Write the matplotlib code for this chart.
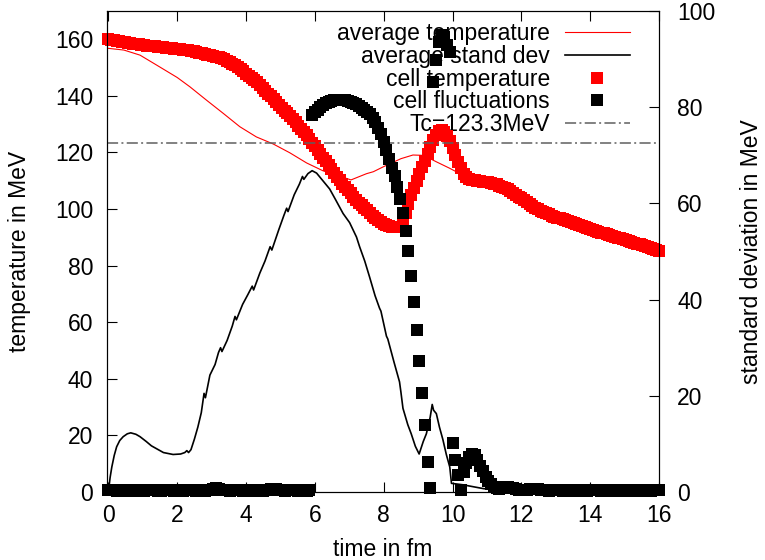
import numpy as np
import matplotlib
matplotlib.use("Agg")
import matplotlib.pyplot as plt
from matplotlib.lines import Line2D

plt.rcParams['font.family'] = ['Liberation Sans', 'DejaVu Sans']
plt.rcParams['lines.scale_dashes'] = False

# ---------------- data ----------------
time_step = 0.08
time = np.round(np.arange(201) * time_step, 2)   # sampling times of the cell data (fm)

cell_temperature = [  # MeV, left axis
    160.0, 159.8, 159.7, 159.5, 159.3, 159.2, 159.0, 158.8, 158.7, 158.5,
    158.3, 158.2, 158.0, 157.9, 157.8, 157.7, 157.6, 157.5, 157.4, 157.3,
    157.2, 157.0, 156.9, 156.8, 156.7, 156.6, 156.5, 156.3, 156.2, 156.1,
    155.9, 155.7, 155.5, 155.2, 155.0, 154.8, 154.6, 154.3, 154.1, 153.9,
    153.6, 153.4, 153.1, 152.5, 151.9, 151.3, 150.8, 150.2, 149.5, 148.7,
    147.9, 147.2, 146.4, 145.6, 144.8, 143.8, 142.8, 141.8, 140.8, 139.8,
    138.8, 137.8, 136.8, 135.8, 134.8, 133.9, 132.9, 131.7, 130.6, 129.5,
    128.4, 127.3, 126.2, 124.9, 123.5, 122.2, 120.9, 119.5, 118.2, 116.9,
    115.5, 114.2, 112.9, 111.5, 110.2, 109.0, 107.8, 106.7, 105.5, 104.3,
    103.1, 102.2, 101.3, 100.4, 99.5, 98.6, 97.7, 96.9, 96.2, 95.4,
    94.6, 94.3, 94.0, 93.7, 93.6, 93.5, 93.5, 95.5, 98.6, 101.8,
    104.8, 107.3, 109.8, 112.3, 114.8, 117.1, 119.4, 122.0, 124.5, 126.3,
    127.5, 127.9, 127.2, 125.8, 124.0, 121.6, 119.0, 116.6, 114.4, 112.4,
    111.2, 110.6, 110.3, 110.2, 110.0, 109.9, 109.7, 109.6, 109.4, 109.2,
    109.0, 108.7, 108.3, 107.9, 107.5, 107.0, 106.5, 105.8, 105.1, 104.4,
    103.8, 103.1, 102.4, 101.7, 101.1, 100.5, 99.9, 99.4, 98.9, 98.5,
    98.1, 97.7, 97.3, 97.0, 96.7, 96.4, 96.1, 95.8, 95.5, 95.2,
    94.8, 94.4, 94.0, 93.6, 93.2, 92.9, 92.6, 92.3, 92.0, 91.7,
    91.4, 91.1, 90.8, 90.5, 90.2, 89.9, 89.6, 89.3, 89.0, 88.7,
    88.4, 88.1, 87.8, 87.5, 87.2, 86.9, 86.6, 86.3, 86.0, 85.6,
    85.2,
]

cell_fluctuations = [  # MeV, right axis
    0.4, 0.5, 0.4, 0.3, 0.4, 0.3, 0.3, 0.4, 0.5, 0.4,
    0.3, 0.3, 0.4, 0.3, 0.4, 0.5, 0.4, 0.4, 0.3, 0.3,
    0.4, 0.4, 0.5, 0.4, 0.3, 0.4, 0.3, 0.3, 0.4, 0.5,
    0.4, 0.4, 0.3, 0.4, 0.4, 0.3, 0.4, 0.5, 0.7, 0.8,
    0.7, 0.5, 0.4, 0.4, 0.3, 0.4, 0.4, 0.5, 0.4, 0.3,
    0.4, 0.4, 0.3, 0.4, 0.5, 0.4, 0.3, 0.4, 0.5, 0.6,
    0.7, 0.6, 0.4, 0.4, 0.3, 0.4, 0.4, 0.5, 0.4, 0.3,
    0.4, 0.4, 0.3, 0.4, 78.4, 79.0, 79.5, 80.0, 80.4, 80.8,
    81.1, 81.3, 81.5, 81.6, 81.6, 81.6, 81.5, 81.3, 81.1, 80.9,
    80.6, 80.3, 79.9, 79.5, 79.0, 78.6, 77.8, 76.9, 75.6, 74.4,
    72.8, 71.0, 69.2, 67.4, 65.6, 63.4, 61.0, 58.0, 54.2, 50.2,
    45.0, 39.6, 33.6, 27.3, 20.5, 14.0, 6.3, 0.9, 85.3, 89.8,
    93.5, 95.0, 94.5, 93.0, 91.5, 10.2, 6.7, 3.5, 0.5, 4.2,
    6.0, 7.3, 7.8, 7.6, 6.6, 5.4, 4.3, 3.2, 2.3, 1.6,
    1.1, 0.8, 0.7, 0.9, 1.0, 1.0, 0.9, 0.8, 0.6, 0.5,
    0.4, 0.4, 0.5, 0.6, 0.7, 0.7, 0.6, 0.5, 0.4, 0.4,
    0.3, 0.4, 0.4, 0.5, 0.4, 0.3, 0.3, 0.4, 0.4, 0.3,
    0.4, 0.5, 0.4, 0.3, 0.3, 0.4, 0.5, 0.5, 0.4, 0.3,
    0.3, 0.4, 0.4, 0.3, 0.4, 0.4, 0.3, 0.3, 0.4, 0.4,
    0.3, 0.4, 0.4, 0.3, 0.3, 0.4, 0.4, 0.3, 0.4, 0.4,
    0.4,
]

avg_temp_time = [0.0, 0.45, 0.92, 1.4, 2.0, 2.37, 2.85, 3.34, 3.82, 4.3, 4.79, 5.27,
                 5.76, 6.24, 6.53, 7.05, 7.5, 7.7, 8.0, 8.5, 8.85, 9.1, 9.24, 9.53,
                 9.92, 10.2, 10.5, 11.0, 11.5, 12.0, 12.5, 13.0, 13.5, 14.0, 14.5,
                 15.0, 15.5, 16.0]
avg_temperature = [156.8, 156.2, 154.4, 150.9, 146.5, 143.2, 138.5, 133.8, 129.1, 125.5,
                   123.0, 119.9, 116.3, 113.5, 112.4, 110.3, 112.5, 113.2, 115.0, 117.8,
                   119.1, 119.0, 118.5, 116.7, 114.4, 112.6, 110.8, 109.2, 107.4, 103.5,
                   99.5, 96.9, 95.0, 92.6, 90.7, 88.9, 87.0, 84.9]

avg_std_time = [0.0, 0.05, 0.10, 0.17, 0.24, 0.33, 0.43, 0.55, 0.65, 0.80, 0.92, 1.10,
                1.25, 1.40, 1.60, 1.88, 2.10, 2.22, 2.28, 2.33, 2.40, 2.50, 2.60, 2.70,
                2.78, 2.82, 2.95, 3.10, 3.20, 3.26, 3.30, 3.45, 3.60, 3.68, 3.72, 3.90,
                4.05, 4.18, 4.22, 4.40, 4.55, 4.70, 4.75, 4.95, 5.10, 5.18, 5.22, 5.40,
                5.55, 5.64, 5.68, 5.80, 5.92, 6.05, 6.20, 6.43, 6.60, 6.82, 7.01, 7.21,
                7.30, 7.45, 7.59, 7.75, 7.88, 7.92, 8.08, 8.12, 8.30, 8.46, 8.50, 8.56,
                8.70, 8.80, 8.92, 9.03, 9.15, 9.24, 9.35, 9.41, 9.45, 9.53, 9.62, 9.72,
                9.82, 9.92, 9.97, 10.3, 10.6, 10.9, 11.3, 12.0, 16.0]
avg_stand_dev = [0.0, 3.0, 5.2, 7.6, 9.4, 10.7, 11.5, 12.1, 12.3, 12.0, 11.5, 10.5,
                 9.6, 9.0, 8.2, 7.8, 7.9, 8.2, 8.6, 8.2, 8.8, 11.0, 13.5, 16.5,
                 20.5, 19.6, 24.3, 26.5, 29.0, 30.0, 29.2, 31.5, 34.5, 36.5, 35.8, 39.0,
                 41.0, 42.8, 42.0, 45.5, 48.0, 51.0, 50.3, 54.5, 57.5, 59.0, 58.3, 61.8,
                 64.0, 65.6, 65.0, 66.2, 66.8, 66.3, 65.0, 63.0, 60.8, 57.9, 56.0, 53.0,
                 51.0, 48.0, 44.7, 40.8, 38.2, 37.6, 32.4, 31.8, 27.0, 22.9, 20.8, 17.4,
                 14.0, 12.1, 9.5, 7.9, 10.5, 12.1, 15.5, 18.2, 17.0, 16.3, 13.5, 10.9,
                 7.8, 5.2, 1.8, 1.5, 1.1, 0.7, 0.4, 0.2, 0.1]

Tc = 123.3

labels = ['average temperature', 'average stand dev', 'cell temperature',
          'cell fluctuations', 'Tc=123.3MeV']
x_ticks = list(range(0, 17, 2))
left_ticks = list(range(0, 161, 20))
right_ticks = list(range(0, 101, 20))

# ---------------- figure ----------------
W, H = 765, 560
fig = plt.figure(figsize=(W / 100, H / 100), dpi=100)
L, R, T, B = 107, 659, 11, 492
ax = fig.add_axes([L / W, (H - B) / H, (R - L) / W, (B - T) / H])
ax2 = ax.twinx()

FS = 16.5
tc_col = '#5f5f5f'
sq = 8.0

ax.plot(avg_temp_time, avg_temperature, color='red', lw=0.8, zorder=2)
ax2.plot(avg_std_time, avg_stand_dev, color='black', lw=1.2, zorder=2)
ax.plot(time, cell_temperature, 's', color='red', ms=sq, mew=0, clip_on=False, zorder=3)
ax2.plot(time, cell_fluctuations, 's', color='black', ms=sq, mew=0, clip_on=False, zorder=3)
ax.axhline(Tc, color=tc_col, lw=1.1, dashes=(8, 2.4, 1.4, 2.4), zorder=4)

ax.set_xlim(-0.04, 16)
ax.set_ylim(0, 170)
ax2.set_ylim(0, 100)
ax.set_xticks(x_ticks)
ax.set_yticks(left_ticks)
ax2.set_yticks(right_ticks)

for a in (ax, ax2):
    for s in a.spines.values():
        s.set_linewidth(0.8)
ax.tick_params(axis='x', direction='in', length=7.2, width=0.8, top=True,
               labelsize=FS, pad=9)
ax.tick_params(axis='y', direction='in', length=7.2, width=0.8, right=False,
               labelsize=FS, pad=10)
ax2.tick_params(axis='y', direction='in', length=7.2, width=0.8,
                labelsize=FS, pad=13)

ax.set_xlabel('time in fm', fontsize=FS)
ax.set_ylabel('temperature in MeV', fontsize=FS)
ax2.set_ylabel('standard deviation in MeV', fontsize=FS)
ax.xaxis.set_label_coords((383 - L) / (R - L), (B - 549) / (B - T))
ax.xaxis.label.set_va('center')
ax.yaxis.set_label_coords((19 - L) / (R - L), 0.5)
ax.yaxis.label.set_va('center')
ax2.yaxis.set_label_coords((752 - L) / (R - L), 0.5)
ax2.yaxis.label.set_va('center')

handles = [
    Line2D([], [], color='red', lw=0.8),
    Line2D([], [], color='black', lw=1.2),
    Line2D([], [], ls='none', marker='s', color='red', ms=sq, mew=0),
    Line2D([], [], ls='none', marker='s', color='black', ms=sq, mew=0),
    Line2D([], [], color=tc_col, lw=1.1, dashes=(8, 2.4, 1.4, 2.4)),
]
leg = ax.legend(handles, labels, loc='upper right', frameon=False, fontsize=FS,
                markerfirst=False, numpoints=1, handlelength=2.84,
                handletextpad=0.65, labelspacing=-0.01, borderpad=0,
                borderaxespad=0,
                bbox_to_anchor=(630 / W, 1 - 22 / H), bbox_transform=fig.transFigure)
leg.set_zorder(1)

fig.savefig('out.png', dpi=100)
